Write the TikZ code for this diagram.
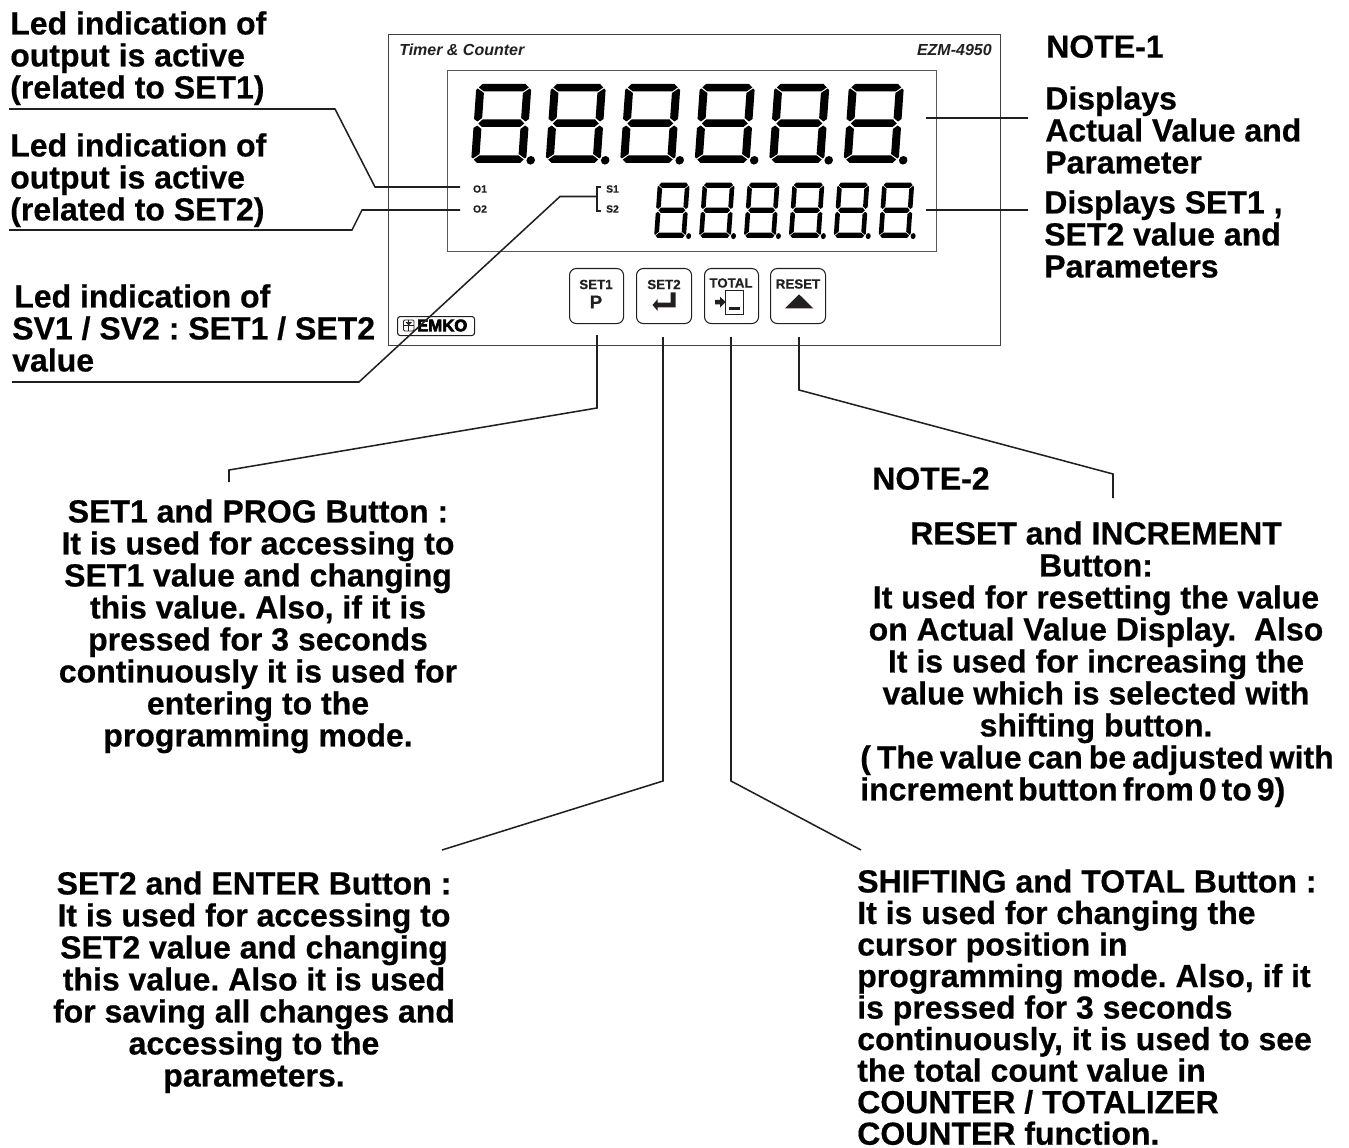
\documentclass[tikz,border=0pt]{standalone}
\usepackage{fontspec}
\setmainfont{Liberation Sans}[BoldFeatures={FakeBold=0.5}]
\newfontfamily\emkofont{Liberation Sans}[BoldFeatures={FakeBold=4}]
\definecolor{ink}{HTML}{231F20}
\newcommand{\digitshape}{%
  \fill (6,-79) -- (49,-79) -- (52.5,-75.5) -- (47,-71.5) -- (8,-71.5) -- (2.5,-75.5) -- cycle;
  \fill (1.5,-74.5) -- (8,-70) -- (8,-45) -- (3.5,-41.5) -- (0,-44) -- (0,-73) -- cycle;
  \fill (53.5,-74.5) -- (47,-70) -- (47,-45) -- (51.5,-41.5) -- (55,-44) -- (55,-73) -- cycle;
  \fill (8.5,-43.5) -- (46.5,-43.5) -- (50.5,-39.5) -- (46.5,-36) -- (8.5,-36) -- (4.5,-39.5) -- cycle;
  \fill (0,-35) -- (3.5,-37.5) -- (8,-34) -- (8,-9) -- (1.5,-4.5) -- (0,-6) -- cycle;
  \fill (55,-35) -- (51.5,-37.5) -- (47,-34) -- (47,-9) -- (53.5,-4.5) -- (55,-6) -- cycle;
  \fill (2.5,-3.5) -- (6,0) -- (49,0) -- (52.5,-3.5) -- (47,-7.5) -- (8,-7.5) -- cycle;
  \fill (59.5,-2.7) circle [radius=3.2pt];
}
\tikzset{
  x=0.75pt,y=-0.75pt,
  lead/.style={draw=ink,line width=1.15pt,line join=miter},
  frameline/.style={draw=ink!85,line width=0.8pt},
  keybox/.style={draw=ink,line width=0.8pt,rounded corners=5pt},
  label/.style={inner sep=0pt,font=\fontsize{24}{24}\selectfont\bfseries\frenchspacing,text=black},
  leftlabel/.style={label,anchor=north west,align=left},
  midlabel/.style={label,anchor=north,align=center},
  keytext/.style={inner sep=0pt,font=\fontsize{10}{10}\selectfont\bfseries,text=ink},
  small/.style={inner sep=0pt,font=\fontsize{7.8}{8}\selectfont\bfseries,text=ink},
  tiny/.style={inner sep=0pt,font=\fontsize{12}{12}\selectfont\bfseries\itshape,text=ink},
}
\begin{document}
\begin{tikzpicture}
\useasboundingbox (0,0) rectangle (1349,1148);
% frames
\node[frameline,inner sep=0pt,minimum width=612*0.75pt,minimum height=311*0.75pt,anchor=north west] (panel) at (388,34) {};
\node[draw=ink!75,line width=0.75pt,inner sep=0pt,minimum width=489*0.75pt,minimum height=181*0.75pt,anchor=north west] (screen) at (447,70) {};
% digits
\foreach \i in {0,...,5}{
  \begin{scope}[shift={(471+74.5*\i,163)},xslant=0.07,fill=black]
    \digitshape
  \end{scope}
  \begin{scope}[shift={(654+44.9*\i,238)},xslant=0.07,xscale=0.58,yscale=0.70,fill=black]
    \digitshape
  \end{scope}
}
% header text
\node[tiny,anchor=west] (title) at (399,50) {Timer \& Counter};
\node[tiny,anchor=east] (model) at (992,50) {EZM-4950};
\node[small] (o1) at (480,189) {O1};
\node[small] (o2) at (480,209) {O2};
\node[small] (s1) at (612.5,189) {S1};
\node[small] (s2) at (612.5,209) {S2};
% logo
\node[draw=ink,line width=0.8pt,rounded corners=2pt,inner sep=0pt,minimum width=77*0.75pt,minimum height=19*0.75pt,anchor=north west] (logo) at (397,316) {};
\node[inner sep=0pt,anchor=west,font=\fontsize{12.5}{12.5}\emkofont\bfseries,text=black] (logotext) at (417,325.5) {EMKO};
\draw[ink,line width=0.7pt,rounded corners=1pt] (403.5,320) rectangle (414,331);
\draw[ink,line width=0.7pt] (403.5,325.5) -- (414,325.5) (408.7,320) -- (408.7,331);
\fill[ink] (405.5,322) -- (412,322) -- (408.7,325.5) -- cycle;
% keys
\node[keybox,minimum width=54*0.75pt,minimum height=55*0.75pt,inner sep=0pt,anchor=north west] (k1) at (569,268) {};
\node[keybox,minimum width=55*0.75pt,minimum height=55*0.75pt,inner sep=0pt,anchor=north west] (k2) at (636,268) {};
\node[keybox,minimum width=54*0.75pt,minimum height=55*0.75pt,inner sep=0pt,anchor=north west] (k3) at (704,268) {};
\node[keybox,minimum width=55*0.75pt,minimum height=55*0.75pt,inner sep=0pt,anchor=north west] (k4) at (770,268) {};
\node[keytext] (k1t) at (596,284.5) {SET1};
\node[inner sep=0pt,font=\fontsize{14}{14}\selectfont\bfseries,text=ink] (k1p) at (596,302) {P};
\node[keytext] (k2t) at (664,284.5) {SET2};
\node[keytext] (k3t) at (731,283) {TOTAL};
\node[keytext] (k4t) at (798,284) {RESET};
\fill[ink] (652.5,305) -- (657.7,299) -- (657.7,302.7) -- (670.7,302.7) -- (670.7,292.3) -- (675.7,292.3) -- (675.7,307.3) -- (657.7,307.3) -- (657.7,311) -- cycle;
\draw[ink,line width=0.75pt] (725.7,290.7) rectangle (743,314.3);
\fill[ink] (729,306.7) rectangle (740,310);
\fill[ink] (715,300) -- (720,300) -- (720,296.7) -- (725.7,302) -- (720,307.7) -- (720,304.3) -- (715,304.3) -- cycle;
\fill[ink] (785,308.3) -- (813.3,308.3) -- (799,294.3) -- cycle;
% leader coordinates
\coordinate (a1) at (9,109);   \coordinate (a2) at (335,109); \coordinate (a3) at (375,187); \coordinate (a4) at (460,187);
\coordinate (b1) at (9,230);   \coordinate (b2) at (352,230); \coordinate (b3) at (362,210); \coordinate (b4) at (460,210);
\coordinate (c1) at (12,382);  \coordinate (c2) at (359,382); \coordinate (c3) at (560,196.5); \coordinate (c4) at (597,196.5);
\coordinate (d1) at (601,187); \coordinate (d2) at (597,187); \coordinate (d3) at (597,211); \coordinate (d4) at (601,211);
\coordinate (e1) at (926,118); \coordinate (e2) at (1028,118);
\coordinate (f1) at (926,210); \coordinate (f2) at (1028,210);
\coordinate (g1) at (597,335); \coordinate (g2) at (597,408); \coordinate (g3) at (229,470); \coordinate (g4) at (229,482);
\coordinate (h1) at (663,337); \coordinate (h2) at (663,781); \coordinate (h3) at (442,850);
\coordinate (i1) at (731,337); \coordinate (i2) at (731,781); \coordinate (i3) at (861,850);
\coordinate (j1) at (799,337); \coordinate (j2) at (799,390); \coordinate (j3) at (1113,474); \coordinate (j4) at (1113,498);
\draw[lead] (a1) -- (a2) -- (a3) -- (a4);
\draw[lead] (b1) -- (b2) -- (b3) -- (b4);
\draw[lead] (c1) -- (c2) -- (c3) -- (c4);
\draw[lead] (d1) -- (d2) -- (d3) -- (d4);
\draw[lead] (e1) -- (e2);
\draw[lead] (f1) -- (f2);
\draw[lead] (g1) -- (g2) -- (g3) -- (g4);
\draw[lead] (h1) -- (h2) -- (h3);
\draw[lead] (i1) -- (i2) -- (i3);
\draw[lead] (j1) -- (j2) -- (j3) -- (j4);
% labels
\node[leftlabel] (t1) at (10,11) {Led indication of\\output is active\\(related to SET1)};
\node[leftlabel] (t2) at (10,133) {Led indication of\\output is active\\(related to SET2)};
\node[leftlabel] (t3) at (14,284) {Led indication of};
\node[leftlabel] (t3b) at (12,316) {SV1 / SV2 : SET1 / SET2\\value};
\node[leftlabel] (n1) at (1046,35) {NOTE-1};
\node[leftlabel] (t4) at (1045,86) {Displays\\Actual Value and\\Parameter};
\node[leftlabel] (t5) at (1044,190) {Displays SET1 ,\\SET2 value and\\Parameters};
\node[leftlabel] (n2) at (872,467) {NOTE-2};
\node[midlabel] (t6) at (258,499) {SET1 and PROG Button :\\It is used for accessing to\\SET1 value and changing\\this value. Also, if it is\\pressed for 3 seconds\\continuously it is used for\\entering to the\\programming mode.};
\node[midlabel] (t7) at (254,871) {SET2 and ENTER Button :\\It is used for accessing to\\SET2 value and changing\\this value. Also it is used\\for saving all changes and\\accessing to the\\parameters.};
\node[midlabel] (t8) at (1096,521) {RESET and INCREMENT\\Button:\\It used for resetting the value\\on Actual Value Display.\ \ Also\\It is used for increasing the\\value which is selected with\\shifting button.};
\node[leftlabel] (t9) at (860,745) {\spaceskip=4.5pt\relax ( The value can be adjusted with};
\node[leftlabel] (t9b) at (860,777) {\spaceskip=3.75pt\relax increment button from 0 to 9)};
\node[leftlabel,font=\fontsize{24}{23.65}\selectfont\bfseries\frenchspacing] (t10) at (857,869) {SHIFTING and TOTAL Button :\\It is used for changing the\\cursor position in\\programming mode. Also, if it\\is pressed for 3 seconds\\continuously, it is used to see\\the total count value in\\COUNTER / TOTALIZER\\COUNTER function.};
\end{tikzpicture}
\end{document}
